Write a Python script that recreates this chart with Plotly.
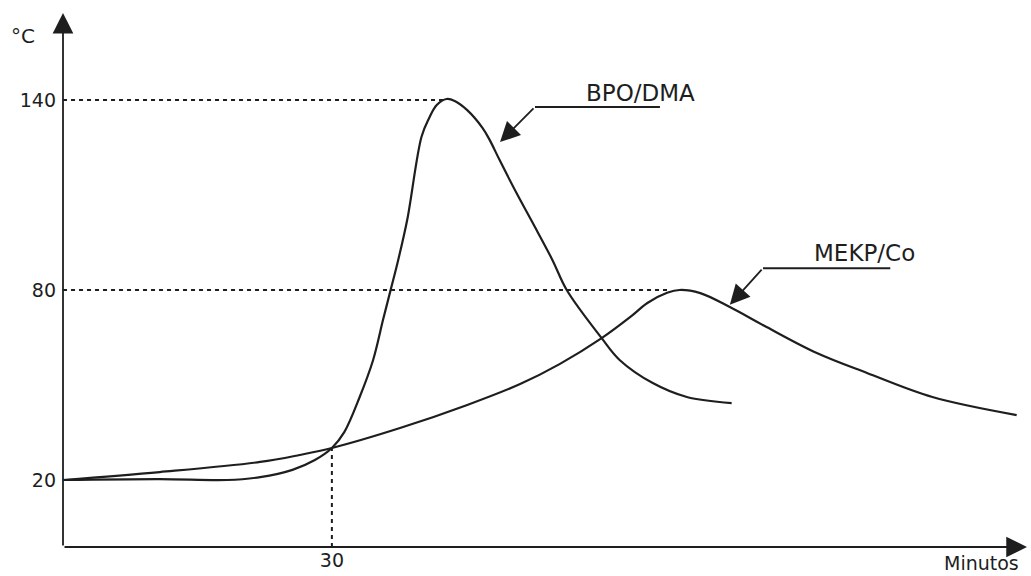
import plotly.graph_objects as go

# Data (minutes, °C)
bpo_t = [0, 10.8, 18.3, 22.0, 25.6, 28.1, 30.0, 31.4, 33.1, 34.6, 35.7, 36.5, 37.4, 38.4,
         40.0, 40.8, 41.7, 42.8, 43.7, 45.1, 46.8, 47.6, 48.7, 50.6, 52.4, 54.6, 56.2,
         60.1, 62.1, 65.8, 69.6, 74.6]
bpo_v = [20, 20.3, 20.0, 20.9, 23.2, 26.3, 30.1, 35.2, 46.2, 57.9, 70.5, 79.4, 89.5, 102.1,
         128.4, 134.0, 138.4, 140.3, 139.7, 136.8, 131.2, 127.4, 121.1, 110.6, 101.2, 89.5, 80.0,
         64.8, 57.9, 50.6, 46.2, 44.3]

mekp_t = [0, 10.8, 22.0, 26.4, 30.0, 37.6, 45.1, 51.0, 55.4, 60.1, 63.3, 65.2, 67.4, 68.8,
          71.1, 74.4, 78.5, 84.1, 89.7, 97.0, 106.4]
mekp_v = [20, 22.5, 25.7, 27.9, 30.1, 36.4, 43.7, 50.3, 56.6, 64.8, 71.5, 75.9, 79.1, 80.0,
          79.0, 74.6, 68.3, 60.1, 53.8, 46.2, 40.5]

y_ticks = [20, 80, 140]
x_ticks = [30]
bpo_peak = (42.8, 140)
mekp_peak = (67.4, 80)
cross = (30, 30.1)

ink = "#1e1e1e"
font = "DejaVu Sans"

fig = go.Figure()
fig.add_trace(go.Scatter(x=bpo_t, y=bpo_v, mode="lines",
                         line=dict(color=ink, width=2.2, shape="spline", smoothing=1.0),
                         hoverinfo="skip", showlegend=False))
fig.add_trace(go.Scatter(x=mekp_t, y=mekp_v, mode="lines",
                         line=dict(color=ink, width=2.2, shape="spline", smoothing=1.0),
                         hoverinfo="skip", showlegend=False))

# dotted reference lines
dash = "4px,4px"
fig.add_shape(type="line", x0=0, x1=bpo_peak[0], y0=bpo_peak[1], y1=bpo_peak[1],
              line=dict(color=ink, width=2, dash=dash))
fig.add_shape(type="line", x0=0, x1=mekp_peak[0], y0=mekp_peak[1], y1=mekp_peak[1],
              line=dict(color=ink, width=2, dash=dash))
fig.add_shape(type="line", x0=cross[0], x1=cross[0], y0=-1.16, y1=cross[1],
              line=dict(color=ink, width=2, dash=dash))

# axes with arrowheads
y0 = -1.16
fig.add_annotation(x=0, y=167.5, ax=0, ay=y0, xref="x", yref="y", axref="x", ayref="y",
                   text="", showarrow=True, arrowhead=2, arrowsize=2.3, arrowwidth=1.8,
                   arrowcolor=ink)
fig.add_annotation(x=107.55, y=y0, ax=0, ay=y0, xref="x", yref="y", axref="x", ayref="y",
                   text="", showarrow=True, arrowhead=2, arrowsize=2.3, arrowwidth=1.8,
                   arrowcolor=ink)

# leader lines for labels
fig.add_shape(type="line", x0=52.66, x1=66.6, y0=137.8, y1=137.8, line=dict(color=ink, width=2))
fig.add_annotation(x=48.76, y=126.7, ax=52.66, ay=137.8, xref="x", yref="y", axref="x", ayref="y",
                   text="", showarrow=True, arrowhead=2, arrowsize=2.2, arrowwidth=1.8,
                   arrowcolor=ink)
fig.add_annotation(x=64.4, y=142.2, text="BPO/DMA", showarrow=False,
                   xanchor="center", yanchor="middle",
                   font=dict(family=font, size=23, color=ink))

fig.add_shape(type="line", x0=78.1, x1=92.3, y0=86.9, y1=86.9, line=dict(color=ink, width=2))
fig.add_annotation(x=74.4, y=75.3, ax=78.1, ay=86.9, xref="x", yref="y", axref="x", ayref="y",
                   text="", showarrow=True, arrowhead=2, arrowsize=2.2, arrowwidth=1.8,
                   arrowcolor=ink)
fig.add_annotation(x=89.4, y=91.7, text="MEKP/Co", showarrow=False,
                   xanchor="center", yanchor="middle",
                   font=dict(family=font, size=23, color=ink))

# axis titles
fig.add_annotation(x=-0.0413, y=0.934, xref="paper", yref="paper", text="°C", showarrow=False,
                   xanchor="center", yanchor="middle",
                   font=dict(family=font, size=20, color=ink))
fig.add_annotation(x=0.949, y=-0.0293, xref="paper", yref="paper", text="Minutos",
                   xanchor="center", yanchor="middle",
                   showarrow=False, font=dict(family=font, size=19, color=ink))

fig.update_xaxes(range=[0, 108], tickvals=x_ticks, ticktext=[str(v) for v in x_ticks],
                 showgrid=False, zeroline=False, showline=False, ticks="",
                 tickfont=dict(family=font, size=19, color=ink), automargin=False)
fig.update_yaxes(range=[-1.16, 171.57], tickvals=y_ticks, ticktext=[str(v) for v in y_ticks],
                 showgrid=False, zeroline=False, showline=False, ticks="",
                 ticklabelstandoff=6,
                 tickfont=dict(family=font, size=19, color=ink), automargin=False)

fig.update_layout(width=1031, height=576, margin=dict(l=63, r=0, t=0, b=29),
                  plot_bgcolor="white", paper_bgcolor="white", showlegend=False)

fig.write_html("out.html", config={"displayModeBar": False},
               post_script="document.body.style.margin='0';"
               "document.body.style.overflow='hidden';")
